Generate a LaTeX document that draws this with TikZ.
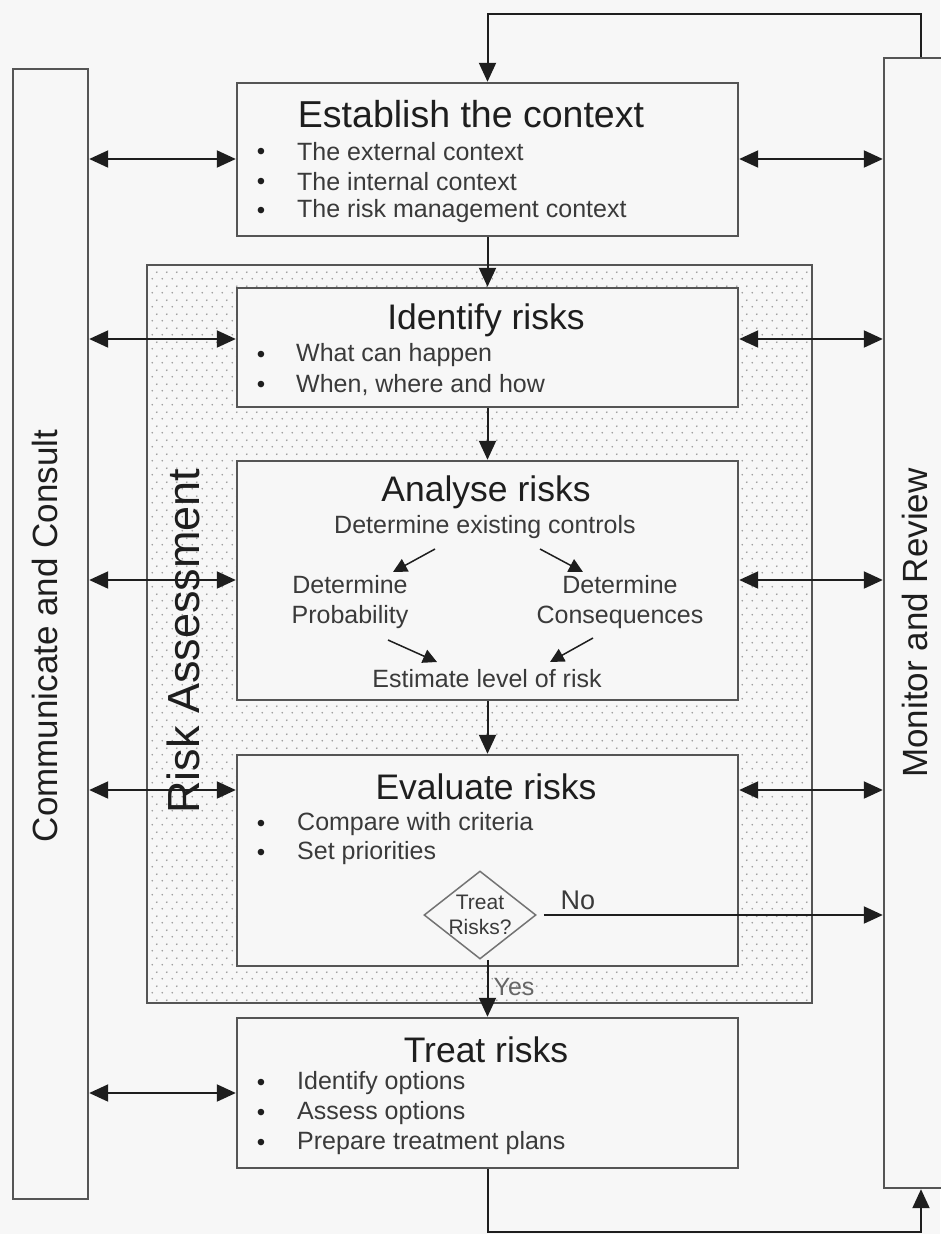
\documentclass[tikz,border=0pt]{standalone}
\usepackage{fontspec}
\setmainfont{Liberation Sans}
\usetikzlibrary{arrows.meta,shapes.geometric,patterns.meta}

\definecolor{paper}{HTML}{F7F7F7}
\definecolor{edge}{HTML}{555555}
\definecolor{ink}{HTML}{1E1E1E}
\definecolor{softink}{HTML}{3A3A3A}
\definecolor{dotgray}{HTML}{999999}

% sparse staggered stipple for the assessment zone
\tikzdeclarepattern{
  name=stipple,
  type=uncolored,
  bounding box={(0pt,0pt) and (10pt,14pt)},
  tile size={(10pt,14pt)},
  code={
    \fill (2.5pt,3.5pt) circle (1pt);
    \fill (7.5pt,10.5pt) circle (1pt);
  }
}

\tikzset{
  stagebox/.style={draw=edge, line width=2.4pt, fill=paper, inner sep=0pt, minimum width=501pt},
  sidebox/.style={draw=edge, line width=2.4pt, fill=paper, inner sep=0pt},
  flow/.style={draw=ink, line width=2pt, -{Triangle[length=19pt,width=17pt]}},
  talk/.style={draw=ink, line width=2pt, {Triangle[length=19pt,width=17pt]}-{Triangle[length=19pt,width=17pt]}},
  minor/.style={draw=ink, line width=1.5pt, -{Triangle[length=14pt,width=14pt]}},
  title/.style={font=\fontsize{35.5}{40}\selectfont, text=ink, inner sep=0pt},
  body/.style={font=\fontsize{25}{30}\selectfont, text=softink, inner sep=0pt},
  item/.style={body, anchor=west},
  bulletmark/.style={font=\fontsize{24}{29.5}\selectfont, text=ink, inner sep=0pt, yshift=-2pt},
  sidelabel/.style={font=\fontsize{35}{40}\selectfont, text=ink, inner sep=0pt, rotate=90},
}

\begin{document}
\begin{tikzpicture}[x=1pt,y=-1pt]
  \fill[paper] (0,0) rectangle (940,1234);
  \useasboundingbox (0,0) rectangle (940,1234);

  % side columns
  \node[sidebox, minimum width=75pt, minimum height=1130pt] (com) at (50.5,634) {};
  \node[sidebox, minimum width=96pt, minimum height=1130pt] (mon) at (932,623) {};
  \node[sidelabel] (comT) at (45,636) {Communicate and Consult};
  \node[sidelabel] (monT) at (915,623) {Monitor and Review};

  % risk assessment zone
  \node[draw=edge, line width=2.4pt, inner sep=0pt, preaction={fill=paper},
        pattern=stipple, pattern color=dotgray,
        minimum width=665pt, minimum height=738pt] (zone) at (479.5,634) {};

  % process stages
  \node[stagebox, minimum height=153pt] (ctx) at (487.5,159.5) {};
  \node[stagebox, minimum height=119pt] (idf) at (487.5,347.5) {};
  \node[stagebox, minimum height=239pt] (ana) at (487.5,580.5) {};
  \node[stagebox, minimum height=211pt] (eva) at (487.5,860.5) {};
  \node[stagebox, minimum height=150pt] (trt) at (487.5,1093) {};

  \node[font=\fontsize{45}{50}\selectfont, text=ink, inner sep=0pt, rotate=90] (zoneT) at (183,641) {Risk Assessment};

  % Establish the context
  \node[title, font=\fontsize{37.5}{42}\selectfont] (ctxT) at (471,114) {Establish the context};
  \node[bulletmark] (ctxB1) at (261,152) {\textbullet};
  \node[bulletmark] (ctxB2) at (261,182) {\textbullet};
  \node[bulletmark] (ctxB3) at (261,211) {\textbullet};
  \node[item] (ctxI1) at (297,152) {The external context};
  \node[item] (ctxI2) at (297,182) {The internal context};
  \node[item] (ctxI3) at (297,211) {The risk management context};

  % Identify risks
  \node[title] (idfT) at (486,320) {Identify risks};
  \node[bulletmark] (idfB1) at (261,355) {\textbullet};
  \node[bulletmark] (idfB2) at (261,385) {\textbullet};
  \node[item] (idfI1) at (296,355) {What can happen};
  \node[item] (idfI2) at (296,385) {When, where and how};

  % Analyse risks
  \node[title] (anaT) at (486,492) {Analyse risks};
  \node[body] (ctl) at (485,527) {Determine existing controls};
  \node[body, align=center] (prob) at (350,602) {Determine\\Probability};
  \node[body, align=center] (cons) at (620,602) {Determine\\Consequences};
  \node[body] (lvl) at (487,679) {Estimate level of risk};
  \draw[minor] ([shift={(-50,22)}]ctl.center) -- ([shift={(43,-30)}]prob.center);
  \draw[minor] ([shift={(55,22)}]ctl.center) -- ([shift={(-37,-30)}]cons.center);
  \draw[minor] ([shift={(38,38)}]prob.center) -- ([shift={(-50,-17)}]lvl.center);
  \draw[minor] ([shift={(-27,36)}]cons.center) -- ([shift={(63,-17)}]lvl.center);

  % Evaluate risks
  \node[title] (evaT) at (486,787) {Evaluate risks};
  \node[bulletmark] (evaB1) at (261,824) {\textbullet};
  \node[bulletmark] (evaB2) at (261,853) {\textbullet};
  \node[item] (evaI1) at (297,824) {Compare with criteria};
  \node[item] (evaI2) at (297,853) {Set priorities};
  \node[diamond, draw=black!55, line width=1.5pt, inner sep=0pt,
        minimum width=112pt, minimum height=88pt] (dia) at (480,915) {};
  \node[font=\fontsize{21}{25}\selectfont, text=softink, align=center, inner sep=0pt] (diaT) at (480,915) {Treat\\Risks?};

  % Treat risks
  \node[title] (trtT) at (486,1050) {Treat risks};
  \node[bulletmark] (trtB1) at (261,1083) {\textbullet};
  \node[bulletmark] (trtB2) at (261,1113) {\textbullet};
  \node[bulletmark] (trtB3) at (261,1143) {\textbullet};
  \node[item] (trtI1) at (297,1083) {Identify options};
  \node[item] (trtI2) at (297,1113) {Assess options};
  \node[item] (trtI3) at (297,1143) {Prepare treatment plans};

  % row heights of the side links
  \coordinate (yctx) at (0,159);
  \coordinate (yidf) at (0,339);
  \coordinate (yana) at (0,580);
  \coordinate (yeva) at (0,790);
  \coordinate (ytrt) at (0,1093);

  \foreach \b/\y in {ctx/yctx, idf/yidf, ana/yana, eva/yeva, trt/ytrt} {
    \draw[talk] (com.east |- \y) -- (\b.west |- \y);
  }
  \foreach \b/\y in {ctx/yctx, idf/yidf, ana/yana, eva/yeva} {
    \draw[talk] (\b.east |- \y) -- (mon.west |- \y);
  }

  % main flow
  \draw[flow] (ctx.south) -- (idf.north);
  \draw[flow] (idf.south) -- (ana.north);
  \draw[flow] (ana.south) -- (eva.north);
  \draw[flow] (dia.south -| trt.north) -- (trt.north);
  \node[body, text=black!60] (yes) at (514,987) {Yes};
  \draw[flow, shorten <=7pt] (dia.east) -- (mon.west |- dia.east);
  \node[font=\fontsize{27}{30}\selectfont, text=softink, inner sep=0pt] (no) at (578,900) {No};

  % feedback loops through monitoring
  \coordinate (topturn) at (921,14);
  \coordinate (botturn) at (921,1232);
  \draw[flow] (mon.north -| topturn) -- (topturn) -- (topturn -| ctx.north) -- (ctx.north);
  \draw[flow] (trt.south) -- (trt.south |- botturn) -- (botturn) -- (mon.south -| botturn);
\end{tikzpicture}
\end{document}
